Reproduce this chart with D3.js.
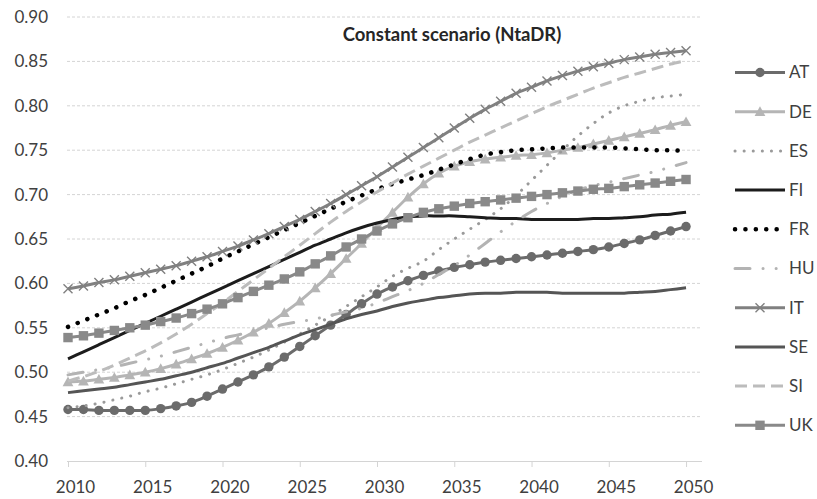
<!DOCTYPE html>
<html>
<head>
<meta charset="utf-8">
<script src="https://cdn.jsdelivr.net/npm/d3@7"></script>
<style>
  html, body { margin: 0; padding: 0; background: #ffffff; }
  svg { display: block; font-family: Lato, "Open Sans", sans-serif; }
</style>
</head>
<body>
<svg id="chart" width="817" height="499"></svg>
<script>
// Years on the horizontal axis
const years = [2010, 2011, 2012, 2013, 2014, 2015, 2016, 2017, 2018, 2019,
               2020, 2021, 2022, 2023, 2024, 2025, 2026, 2027, 2028, 2029,
               2030, 2031, 2032, 2033, 2034, 2035, 2036, 2037, 2038, 2039,
               2040, 2041, 2042, 2043, 2044, 2045, 2046, 2047, 2048, 2049, 2050];

// NtaDR under the constant scenario, one array per country
const AT = [.458, .458, .457, .457, .457, .457, .459, .462, .466, .473,
            .481, .489, .497, .506, .517, .529, .541, .553, .565, .577,
            .588, .596, .603, .609, .614, .618, .621, .624, .626, .628,
            .630, .632, .634, .636, .638, .641, .645, .649, .654, .659, .664];
const DE = [.489, .490, .492, .494, .497, .500, .504, .509, .515, .521,
            .528, .536, .545, .555, .567, .580, .595, .611, .628, .645,
            .663, .680, .697, .712, .724, .732, .737, .740, .742, .744,
            .745, .747, .750, .753, .757, .761, .765, .769, .773, .778, .782];
const ES = [.460, .462, .465, .469, .473, .478, .482, .487, .492, .497,
            .503, .510, .517, .525, .534, .543, .553, .563, .574, .585,
            .596, .608, .617, .625, .638, .650, .661, .672, .684, .699,
            .716, .733, .750, .766, .780, .792, .800, .805, .809, .811, .813];
const FI = [.515, .523, .531, .539, .547, .555, .563, .571, .579, .587,
            .595, .603, .611, .619, .627, .635, .643, .650, .657, .663,
            .668, .672, .675, .676, .676, .676, .675, .674, .673, .673,
            .672, .672, .672, .672, .673, .673, .674, .675, .677, .678, .680];
const FR = [.551, .558, .565, .572, .580, .587, .595, .603, .611, .619,
            .628, .636, .644, .652, .660, .668, .676, .684, .692, .699,
            .706, .712, .717, .722, .728, .734, .740, .745, .748, .750,
            .751, .752, .753, .753, .753, .753, .752, .751, .750, .750, .749];
const HU = [.497, .500, .503, .506, .510, .514, .518, .523, .528, .533,
            .538, .542, .546, .550, .554, .557, .560, .564, .568, .572,
            .578, .585, .592, .600, .610, .620, .632, .645, .658, .670,
            .681, .690, .698, .705, .710, .714, .718, .722, .726, .731, .736];
const IT = [.594, .597, .601, .604, .608, .612, .616, .620, .625, .630,
            .636, .642, .649, .656, .664, .672, .681, .690, .700, .710,
            .720, .731, .742, .753, .764, .775, .786, .796, .805, .814,
            .821, .828, .834, .839, .844, .848, .852, .855, .858, .860, .862];
const SE = [.477, .479, .481, .483, .486, .489, .492, .496, .500, .505,
            .510, .516, .522, .528, .535, .542, .548, .554, .560, .565,
            .569, .574, .578, .581, .584, .586, .588, .589, .589, .590,
            .590, .590, .589, .589, .589, .589, .589, .590, .591, .593, .595];
const SI = [.490, .495, .501, .508, .516, .524, .533, .543, .554, .566,
            .578, .591, .604, .617, .630, .643, .656, .669, .681, .692,
            .703, .713, .723, .732, .741, .750, .759, .767, .775, .783,
            .791, .799, .806, .813, .820, .826, .832, .837, .842, .847, .851];
const UK = [.539, .541, .544, .547, .550, .553, .557, .561, .566, .571,
            .577, .584, .591, .598, .605, .613, .622, .631, .641, .650,
            .659, .667, .674, .680, .684, .687, .690, .692, .694, .696,
            .698, .700, .702, .704, .706, .707, .709, .711, .713, .715, .717];

const countries = ["AT", "DE", "ES", "FI", "FR", "HU", "IT", "SE", "SI", "UK"];
const seriesValues = [AT, DE, ES, FI, FR, HU, IT, SE, SI, UK];

const yTicks = [0.40, 0.45, 0.50, 0.55, 0.60, 0.65, 0.70, 0.75, 0.80, 0.85, 0.90];
const xTicks = [2010, 2015, 2020, 2025, 2030, 2035, 2040, 2045, 2050];
const title = "Constant scenario (NtaDR)";

// Line styling per country (greyscale palette)
const styles = {
  AT: { color: "#6b6b6b", width: 3,   dash: null,                     cap: "butt",  marker: "circle" },
  DE: { color: "#b5b5b5", width: 3,   dash: null,                     cap: "butt",  marker: "triangle" },
  ES: { color: "#9a9a9a", width: 3,   dash: "0.1 9",                  cap: "round", marker: null },
  FI: { color: "#1c1c1c", width: 3,   dash: null,                     cap: "butt",  marker: null },
  FR: { color: "#000000", width: 4.5, dash: "0.1 10.3",               cap: "round", marker: null },
  HU: { color: "#b3b3b3", width: 3,   dash: "15 13 0.1 13 0.1 13",    cap: "round", marker: null },
  IT: { color: "#808080", width: 3,   dash: null,                     cap: "butt",  marker: "cross" },
  SE: { color: "#555555", width: 3,   dash: null,                     cap: "butt",  marker: null },
  SI: { color: "#bcbcbc", width: 3,   dash: "12 6",                   cap: "butt",  marker: null },
  UK: { color: "#898989", width: 3,   dash: null,                     cap: "butt",  marker: "square" }
};

const svg = d3.select("#chart");

const x = d3.scaleLinear().domain([2010, 2051]).range([68, 701.5]);
const y = d3.scaleLinear().domain([0.40, 0.90]).range([461, 17]);
const plotLeft = 67, plotRight = 702;

// Horizontal dashed gridlines
svg.append("g").selectAll("line")
  .data(yTicks.filter(t => t > 0.40))
  .join("line")
  .attr("x1", plotLeft).attr("x2", plotRight)
  .attr("y1", d => y(d)).attr("y2", d => y(d))
  .attr("stroke", "#d4d4d4").attr("stroke-width", 1)
  .attr("stroke-dasharray", "3 2");

// Y axis labels
const yAxis = d3.axisLeft(y).tickValues(yTicks).tickFormat(d3.format(".2f"))
  .tickSize(0).tickPadding(19);
const gy = svg.append("g").attr("transform", `translate(${plotLeft},0)`).call(yAxis);
gy.select(".domain").remove();
gy.selectAll("text").attr("font-family", "Lato, sans-serif").attr("font-size", 17)
  .attr("fill", "#404040");

// X axis
const xAxis = d3.axisBottom(x).tickValues(xTicks).tickFormat(d3.format("d"))
  .tickSize(6).tickSizeOuter(0).tickPadding(14);
const gx = svg.append("g").attr("transform", `translate(0,${y(0.40)})`).call(xAxis);
gx.select(".domain").attr("stroke", "#d4d4d4").attr("d", `M${plotLeft},0.5H${plotRight}`);
gx.selectAll(".tick line").attr("stroke", "#d4d4d4");
gx.selectAll("text").attr("font-family", "Lato, sans-serif").attr("font-size", 17)
  .attr("fill", "#404040").attr("dx", 7);

// Title
svg.append("text")
  .attr("x", 452).attr("y", 41)
  .attr("text-anchor", "middle")
  .attr("font-family", "Lato, sans-serif").attr("font-weight", "bold")
  .attr("font-size", 18.5).attr("fill", "#262626")
  .text(title);

const line = d3.line()
  .x((d, i) => x(years[i]))
  .y(d => y(d))
  .curve(d3.curveCatmullRom.alpha(0.5));

function drawMarker(g, type, cx, cy, color) {
  if (type === "circle") {
    g.append("circle").attr("cx", cx).attr("cy", cy).attr("r", 4.7).attr("fill", color);
  } else if (type === "square") {
    g.append("rect").attr("x", cx - 4.7).attr("y", cy - 4.7)
      .attr("width", 9.4).attr("height", 9.4).attr("fill", color);
  } else if (type === "triangle") {
    const s = 5.4;
    g.append("path")
      .attr("d", `M${cx},${cy - s}L${cx + s},${cy + s * 0.8}L${cx - s},${cy + s * 0.8}Z`)
      .attr("fill", color);
  } else if (type === "cross") {
    const s = 4.5;
    g.append("path")
      .attr("d", `M${cx - s},${cy - s}L${cx + s},${cy + s}M${cx - s},${cy + s}L${cx + s},${cy - s}`)
      .attr("stroke", color).attr("stroke-width", 1.4).attr("fill", "none");
  }
}

// Series lines and markers
countries.forEach((name, k) => {
  const st = styles[name];
  const vals = seriesValues[k];
  const g = svg.append("g").attr("class", "series-" + name);
  g.append("path")
    .attr("d", line(vals))
    .attr("fill", "none")
    .attr("stroke", st.color)
    .attr("stroke-width", st.width)
    .attr("stroke-linecap", st.cap)
    .attr("stroke-linejoin", "round")
    .attr("stroke-dasharray", st.dash);
  if (st.marker) {
    vals.forEach((v, i) => drawMarker(g, st.marker, x(years[i]), y(v), st.color));
  }
});

// Legend
const legendTop = 72.5, legendStep = 39.2;
const lg = svg.append("g");
countries.forEach((name, k) => {
  const st = styles[name];
  const cy = legendTop + k * legendStep;
  lg.append("line")
    .attr("x1", 735).attr("x2", 785).attr("y1", cy).attr("y2", cy)
    .attr("stroke", st.color).attr("stroke-width", st.width)
    .attr("stroke-linecap", st.cap)
    .attr("stroke-dasharray", st.dash);
  if (st.marker) drawMarker(lg, st.marker, 760, cy, st.color);
  lg.append("text")
    .attr("x", 789).attr("y", cy).attr("dy", "0.35em")
    .attr("font-family", "Lato, sans-serif").attr("font-size", 17)
    .attr("fill", "#404040")
    .text(name);
});
</script>
</body>
</html>
